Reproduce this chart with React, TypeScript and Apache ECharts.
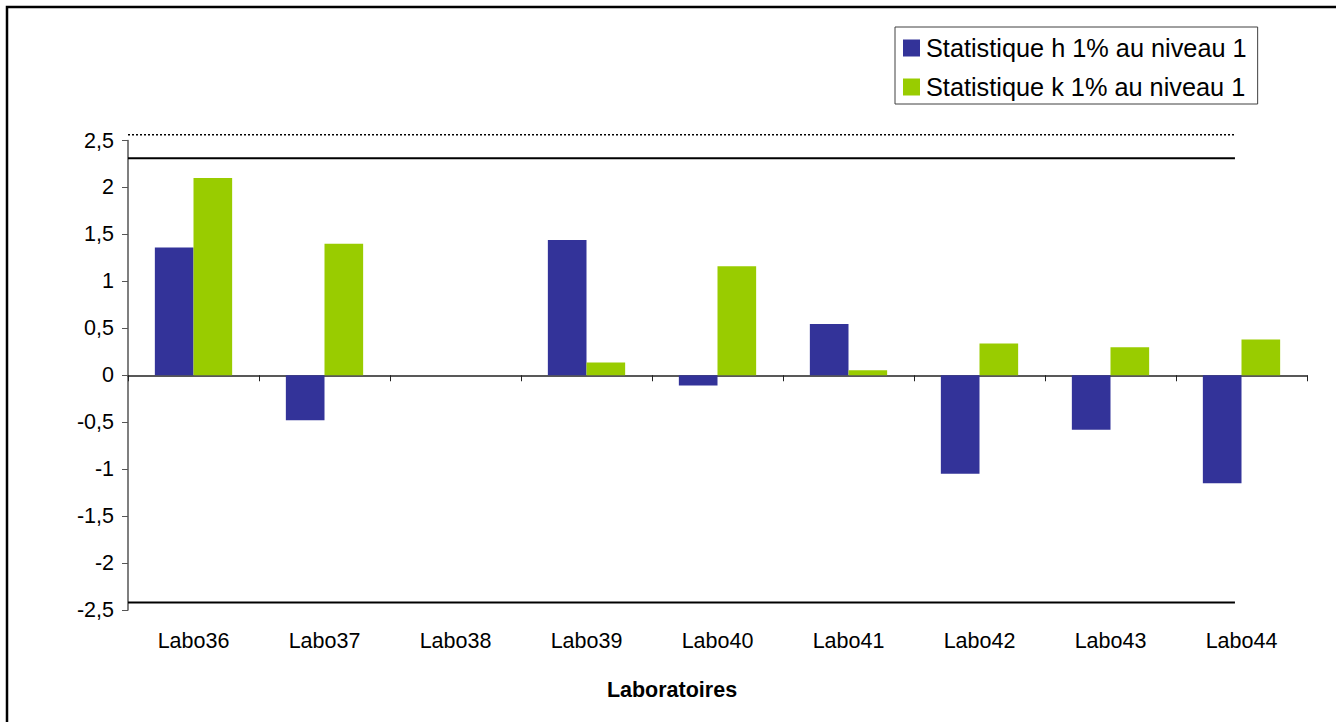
import React, { useEffect, useRef } from "react";
import * as echarts from "echarts";

// Laboratories on the x axis
const labs = ["Labo36", "Labo37", "Labo38", "Labo39", "Labo40", "Labo41", "Labo42", "Labo43", "Labo44"];
// Mandel statistics per laboratory
const hValues = [1.36, -0.48, 0, 1.44, -0.11, 0.545, -1.05, -0.58, -1.15];
const kValues = [2.1, 1.4, 0, 0.135, 1.16, 0.053, 0.337, 0.298, 0.38];
// Reference lines (critical values)
const upperSolid = 2.31;
const lowerSolid = -2.42;
const upperDotted = 2.56;
// Horizontal extent of reference lines, in category units
const refLineSpan = [0, 8.45];

const seriesNames = ["Statistique h 1% au niveau 1", "Statistique k 1% au niveau 1"];
const axisTitle = "Laboratoires";
const FONT = "Liberation Sans, Arial, sans-serif";

export default function App() {
  const ref = useRef<HTMLDivElement>(null);

  useEffect(() => {
    const chart = echarts.init(ref.current!, null, { renderer: "svg" });

    const refLine = (v: number, type: any, width: number) => ({
      type: "line",
      xAxisIndex: 2,
      data: refLineSpan.map((x) => [x, v]),
      symbol: "none",
      clip: false,
      silent: true,
      lineStyle: { color: "#000", width, type },
      z: 1,
    });

    chart.setOption({
      animation: false,
      backgroundColor: "#fff",
      textStyle: { fontFamily: FONT },
      grid: { left: 128, right: 29, top: 140.5, bottom: 112, containLabel: false },
      legend: {
        data: seriesNames,
        orient: "vertical",
        left: 895,
        top: 27,
        icon: "rect",
        itemWidth: 17,
        itemHeight: 17,
        itemGap: 11,
        padding: [7, 11, 3, 8],
        borderColor: "#404040",
        borderWidth: 1,
        textStyle: { fontSize: 25.3, color: "#000", fontFamily: FONT, lineHeight: 28, padding: [0, 0, 0, 1] },
      },
      xAxis: [
        {
          type: "category",
          data: labs,
          axisLine: { onZero: true, lineStyle: { color: "#222", width: 1.5 } },
          axisTick: { show: true, length: 6, lineStyle: { color: "#222" } },
          axisLabel: { show: false },
          splitLine: { show: false },
        },
        {
          type: "category",
          data: labs,
          position: "bottom",
          axisLine: { show: false, onZero: false },
          axisTick: { show: false },
          axisLabel: { color: "#000", fontSize: 21.5, margin: 20, fontFamily: FONT },
        },
        { type: "value", min: 0, max: 9, show: false },
      ],
      yAxis: {
        type: "value",
        min: -2.5,
        max: 2.5,
        interval: 0.5,
        axisLine: { show: true, lineStyle: { color: "#555", width: 1.5 } },
        axisTick: { show: true, length: 6, lineStyle: { color: "#555" } },
        splitLine: { show: false },
        axisLabel: {
          color: "#000",
          fontSize: 21.5,
          margin: 14,
          fontFamily: FONT,
          formatter: (v: number) => String(v).replace(".", ","),
        },
      },
      series: [
        {
          name: seriesNames[0],
          type: "bar",
          data: hValues,
          itemStyle: { color: "#333399" },
          barGap: "0%",
          barCategoryGap: "41%",
          z: 2,
        },
        {
          name: seriesNames[1],
          type: "bar",
          data: kValues,
          itemStyle: { color: "#99CC00" },
          barGap: "0%",
          barCategoryGap: "41%",
          z: 2,
        },
        refLine(upperSolid, "solid", 2),
        refLine(lowerSolid, "solid", 2),
        refLine(upperDotted, [2, 2], 1.5),
      ],
      graphic: [
        {
          type: "rect",
          shape: { x: 7, y: 7, width: 1340, height: 740 },
          style: { fill: "none", stroke: "#000", lineWidth: 2.5 },
          silent: true,
        },
        {
          type: "text",
          x: 672,
          y: 690,
          style: {
            text: axisTitle,
            align: "center",
            verticalAlign: "middle",
            fontSize: 21.5,
            fontWeight: "bold",
            fontFamily: FONT,
            fill: "#000",
          },
          silent: true,
        },
      ],
    });

    return () => chart.dispose();
  }, []);

  return (
    <div style={{ position: "fixed", left: 0, top: 0, width: 1336, height: 722, overflow: "hidden", background: "#fff" }}>
      <div ref={ref} style={{ width: 1336, height: 722 }} />
    </div>
  );
}
